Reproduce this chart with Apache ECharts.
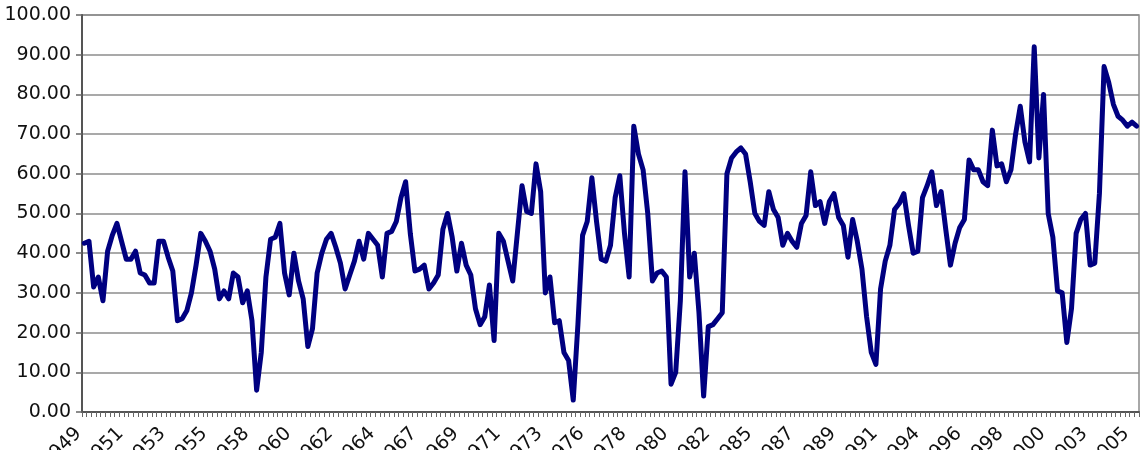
<!DOCTYPE html>
<html>
<head>
<meta charset="utf-8">
<script src="https://cdn.jsdelivr.net/npm/echarts@6/dist/echarts.min.js"></script>
<style>
  html, body { margin: 0; padding: 0; background: #fff; }
  #chart { width: 1148px; height: 450px; }
</style>
</head>
<body>
<div id="chart"></div>
<script>
// quarterly series, 1949 Q1 onwards
var startYear = 1949
var values = [
  42.5, 43, 31.5, 34, 28, 40.5, 44.5, 47.5, 43, 38.5,
  38.5, 40.5, 35, 34.5, 32.5, 32.5, 43, 43, 39, 35.5,
  23, 23.5, 25.5, 30, 37, 45, 43, 40.5, 36, 28.5,
  30.5, 28.5, 35, 34, 27.5, 30.5, 23, 5.5, 15, 34,
  43.5, 44, 47.5, 35, 29.5, 40, 33, 28.5, 16.5, 21,
  35, 40, 43.5, 45, 41.5, 37.5, 31, 34.5, 38, 43,
  38.5, 45, 43.5, 42, 34, 45, 45.5, 48, 54, 58,
  45, 35.5, 36, 37, 31, 32.5, 34.5, 46, 50, 44,
  35.5, 42.5, 37, 34.5, 26, 22, 24, 32, 18, 45,
  43, 38, 33, 45, 57, 50.5, 50, 62.5, 55.5, 30,
  34, 22.5, 23, 15, 13, 3, 22, 44.5, 48, 59,
  48, 38.5, 38, 42, 54, 59.5, 45, 34, 72, 65,
  61, 50, 33, 35, 35.5, 34, 7, 10, 28, 60.5,
  34, 40, 25, 4, 21.5, 22, 23.5, 25, 60, 64,
  65.5, 66.5, 65, 58, 50, 48, 47, 55.5, 51, 49,
  42, 45, 43, 41.5, 47.5, 49.5, 60.5, 52, 53, 47.5,
  53, 55, 49, 47, 39, 48.5, 43, 36, 24, 15,
  12, 31, 38, 42, 51, 52.5, 55, 47, 40, 40.5,
  54, 57, 60.5, 52, 55.5, 46, 37, 42.5, 46.5, 48.5,
  63.5, 61, 61, 58, 57, 71, 62, 62.5, 58, 61,
  70, 77, 68, 63, 92, 64, 80, 50, 44, 30.5,
  30, 17.5, 26, 45, 48.5, 50, 37, 37.5, 55, 87,
  83, 77.5, 74.5, 73.5, 72, 73, 72
]
var categories = []
for (var i = 0; i < values.length; i++) {
  categories.push((startYear + Math.floor(i / 4)) + 'Q' + (i % 4 + 1))
}
var yMin = 0
var yMax = 100
var yStep = 10

var myChart = echarts.init(document.getElementById('chart'))
myChart.setOption({
  animation: false,
  grid: {
    left: 82,
    right: 9,
    top: 15,
    bottom: 38,
    containLabel: false,
    outerBoundsMode: 'none',
    show: true,
    borderColor: '#8c8c8c',
    borderWidth: 1.5
  },
  xAxis: {
    type: 'category',
    data: categories,
    boundaryGap: true,
    axisLine: { lineStyle: { color: '#555', width: 2 } },
    axisTick: { show: true, interval: 0, length: 5, lineStyle: { color: '#666', width: 1 } },
    axisLabel: {
      interval: 8,
      rotate: 45,
      margin: 13,
      padding: [0, 8, 0, 0],
      color: '#111',
      fontFamily: 'DejaVu Sans',
      fontSize: 19,
      formatter: function (v) { return v.slice(0, 4) }
    },
    splitLine: { show: false }
  },
  yAxis: {
    type: 'value',
    min: yMin,
    max: yMax,
    interval: yStep,
    axisLine: { show: true, lineStyle: { color: '#555', width: 2 } },
    axisTick: { show: true, length: 6, lineStyle: { color: '#666', width: 1.5 } },
    axisLabel: {
      margin: 11,
      color: '#111',
      fontFamily: 'DejaVu Sans',
      fontSize: 19,
      formatter: function (v) { return v.toFixed(2) }
    },
    splitLine: { lineStyle: { color: '#8c8c8c', width: 1.5 } }
  },
  series: [{
    type: 'line',
    data: values,
    symbol: 'none',
    smooth: false,
    lineStyle: { color: '#000080', width: 5, cap: 'round', join: 'round' }
  }]
})
</script>
</body>
</html>
